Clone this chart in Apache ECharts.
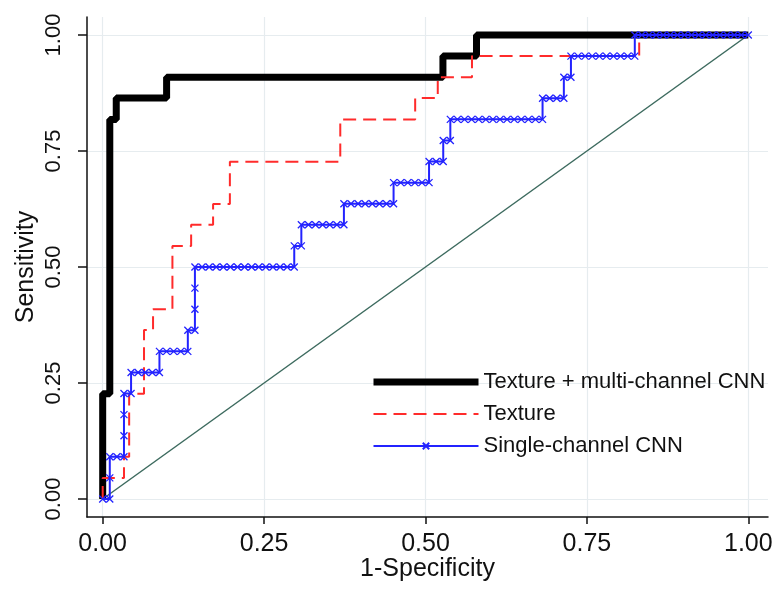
<!DOCTYPE html>
<html>
<head>
<meta charset="utf-8">
<script src="https://cdn.jsdelivr.net/npm/echarts@6/dist/echarts.min.js"></script>
<style>
  html, body { margin: 0; padding: 0; background: #fff; }
  #roc { width: 778px; height: 593px; }
</style>
</head>
<body>
<div id="roc"></div>
<script>
// tick positions shared by both axes
var tickValues = [0, 0.25, 0.5, 0.75, 1];

// Texture + multi-channel CNN (1-specificity, sensitivity)
var blackFpr = [0, 0, 0.011, 0.011, 0.021, 0.021, 0.099, 0.099, 0.527, 0.527, 0.579, 0.579, 1];
var blackTpr = [0, 0.227, 0.227, 0.818, 0.818, 0.864, 0.864, 0.909, 0.909, 0.955, 0.955, 1, 1];

// Texture
var redFpr = [0, 0, 0.033, 0.033, 0.041, 0.041, 0.064, 0.064, 0.078, 0.078, 0.108, 0.108, 0.137, 0.137,
  0.171, 0.171, 0.197, 0.197, 0.368, 0.368, 0.484, 0.484, 0.519, 0.519, 0.572, 0.572, 0.831, 0.831, 1];
var redTpr = [0, 0.045, 0.045, 0.091, 0.091, 0.227, 0.227, 0.364, 0.364, 0.409, 0.409, 0.545, 0.545, 0.591,
  0.591, 0.636, 0.636, 0.727, 0.727, 0.818, 0.818, 0.864, 0.864, 0.909, 0.909, 0.955, 0.955, 1, 1];

// Single-channel CNN, one point per threshold (false / true positive counts)
var negTotal = 91;
var posTotal = 22;
var blueFp = [0, 1, 1, 1, 2, 3, 3, 3, 3, 4, 4, 5, 6, 7, 8, 8, 9, 10, 11, 12, 12, 13, 13, 13, 13,
  14, 15, 16, 17, 18, 19, 20, 21, 22, 23, 24, 25, 26, 27,
  27, 28, 28,
  29, 30, 31, 32, 33, 34,
  34,
  35, 36, 37, 38, 39, 40, 41,
  41,
  42, 43, 44, 45, 46,
  46, 47, 48, 48, 49, 49,
  50, 51, 52, 53, 54, 55, 56, 57, 58, 59, 60, 61, 62,
  62, 63, 64, 65, 65, 66, 66,
  67, 68, 69, 70, 71, 72, 73, 74, 75,
  75,
  76, 77, 78, 79, 80, 81, 82, 83, 84, 85, 86, 87, 88, 89, 90, 91];
var blueTp = [0, 0, 1, 2, 2, 2, 3, 4, 5, 5, 6, 6, 6, 6, 6, 7, 7, 7, 7, 7, 8, 8, 9, 10, 11,
  11, 11, 11, 11, 11, 11, 11, 11, 11, 11, 11, 11, 11, 11,
  12, 12, 13,
  13, 13, 13, 13, 13, 13,
  14,
  14, 14, 14, 14, 14, 14, 14,
  15,
  15, 15, 15, 15, 15,
  16, 16, 16, 17, 17, 18,
  18, 18, 18, 18, 18, 18, 18, 18, 18, 18, 18, 18, 18,
  19, 19, 19, 19, 20, 20, 21,
  21, 21, 21, 21, 21, 21, 21, 21, 21,
  22,
  22, 22, 22, 22, 22, 22, 22, 22, 22, 22, 22, 22, 22, 22, 22, 22];

// chance line
var refLine = [0, 1];

function pairs(xs, ys) {
  return xs.map(function (x, i) { return [x, ys[i]]; });
}

var blackData = pairs(blackFpr, blackTpr);
var redData = pairs(redFpr, redTpr);
var blueData = blueFp.map(function (fp, i) { return [fp / negTotal, blueTp[i] / posTotal]; });
var refData = pairs(refLine, refLine);

var font = "Liberation Sans, Arial, sans-serif";
var xMark = "path://M0,0L10,10M10,0L0,10";

var chart = echarts.init(document.getElementById("roc"));
var option = {
  backgroundColor: "#fff",
  animation: false,
  grid: { left: 87, right: 10, top: 17, bottom: 76, containLabel: false },
  legend: {
    orient: "vertical",
    left: 370,
    top: 371,
    padding: 0,
    itemWidth: 105,
    itemHeight: 8,
    itemGap: 10,
    textStyle: { fontFamily: font, fontSize: 22, lineHeight: 21, color: "#111" },
    data: [
      { name: "Texture + multi-channel CNN", lineStyle: { width: 7 }, itemStyle: { opacity: 0 } },
      { name: "Texture", lineStyle: { width: 2 }, itemStyle: { opacity: 0 } },
      { name: "Single-channel CNN", lineStyle: { width: 2 } }
    ]
  },
  xAxis: {
    type: "value",
    min: -0.0243,
    max: 1.0305,
    name: "1-Specificity",
    nameLocation: "middle",
    nameGap: 40,
    nameMoveOverlap: false,
    nameTextStyle: { fontFamily: font, fontSize: 25, color: "#111" },
    axisLine: { onZero: false, lineStyle: { color: "#111", width: 1.5 } },
    axisTick: { customValues: tickValues, length: 7, lineStyle: { color: "#111", width: 1.5 } },
    axisLabel: {
      customValues: tickValues,
      margin: 15,
      fontFamily: font,
      fontSize: 25,
      color: "#111",
      formatter: function (v) { return v.toFixed(2); }
    },
    splitLine: { show: true, lineStyle: { color: "#e6ecef", width: 1.2 } }
  },
  yAxis: {
    type: "value",
    min: -0.0388,
    max: 1.0388,
    name: "Sensitivity",
    nameLocation: "middle",
    nameGap: 48,
    nameMoveOverlap: false,
    nameTextStyle: { fontFamily: font, fontSize: 25, color: "#111" },
    axisLine: { onZero: false, lineStyle: { color: "#111", width: 1.5 } },
    axisTick: { customValues: tickValues, length: 9, lineStyle: { color: "#111", width: 1.5 } },
    axisLabel: {
      customValues: tickValues,
      rotate: 90,
      margin: 22,
      fontFamily: font,
      fontSize: 22,
      color: "#111",
      formatter: function (v) { return v.toFixed(2); }
    },
    splitLine: { show: true, lineStyle: { color: "#e6ecef", width: 1.2 } }
  },
  series: [
    {
      name: "reference",
      type: "line",
      data: refData,
      showSymbol: false,
      silent: true,
      lineStyle: { color: "#3d6b5f", width: 1.5 },
      z: 1
    },
    {
      name: "Texture + multi-channel CNN",
      type: "line",
      data: blackData,
      showSymbol: false,
      symbol: "none",
      color: "#000",
      lineStyle: { color: "#000", width: 7 },
      z: 2
    },
    {
      name: "Texture",
      type: "line",
      data: redData,
      showSymbol: false,
      symbol: "none",
      color: "#ff2b2b",
      lineStyle: { color: "#ff2b2b", width: 2, type: [13, 7] },
      z: 3
    },
    {
      name: "Single-channel CNN",
      type: "line",
      data: blueData,
      symbol: xMark,
      symbolSize: 7,
      showAllSymbol: true,
      color: "#2323ff",
      itemStyle: { color: "#2323ff", borderColor: "#2323ff", borderWidth: 1.3 },
      lineStyle: { color: "#2323ff", width: 2 },
      z: 4
    }
  ]
};
option && chart.setOption(option);
</script>
</body>
</html>
